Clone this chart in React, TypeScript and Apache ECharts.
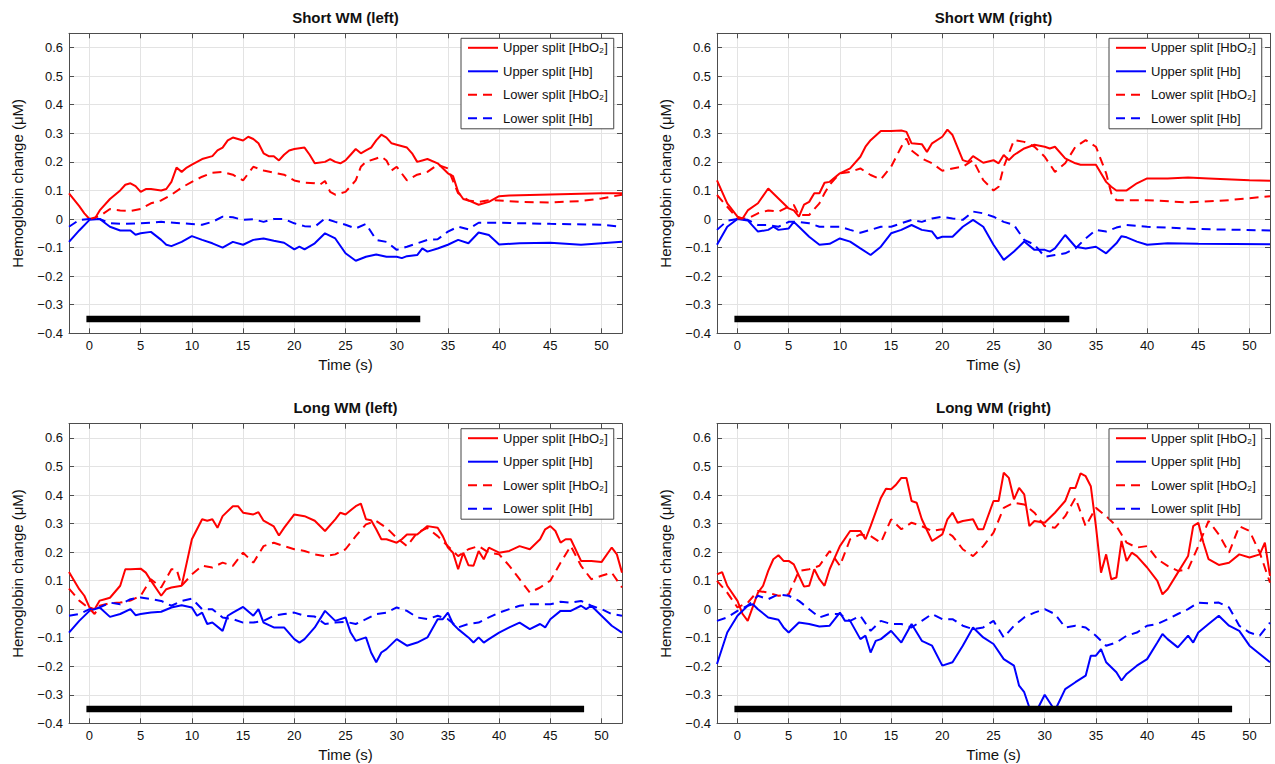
import React, { useEffect, useRef } from "react";
import * as echarts from "echarts";

// ---------- tick labels / categories ----------
const xTicks = [0, 5, 10, 15, 20, 25, 30, 35, 40, 45, 50];
const yTicks = [-0.4, -0.3, -0.2, -0.1, 0, 0.1, 0.2, 0.3, 0.4, 0.5, 0.6];
const panelTitles = ["Short WM (left)", "Short WM (right)", "Long WM (left)", "Long WM (right)"];
const seriesNames = ["Upper split [HbO\u2082]", "Upper split [Hb]", "Lower split [HbO\u2082]", "Lower split [Hb]"];
const taskEnd = [32.3, 32.4, 48.3, 48.3];
const taskStart = -0.3;
const taskLevel = -0.35;

// ---------- Short WM (left) ----------
const swlUpperHbO2 = [[-2,0.09],[-1,0.045],[-0.5,0.02],[0,0.0],[0.5,0.0],[1,0.03],[2,0.07],[3,0.1],[3.5,0.12],[4,0.125],[4.5,0.115],[5,0.095],[5.5,0.105],[6,0.105],[7,0.1],[7.5,0.105],[8,0.13],[8.5,0.18],[9,0.165],[9.5,0.18],[10,0.19],[11,0.21],[12,0.22],[12.5,0.24],[13,0.25],[13.5,0.275],[14,0.285],[15,0.275],[15.5,0.288],[16,0.28],[16.5,0.265],[17,0.23],[17.5,0.22],[18,0.22],[18.5,0.205],[19,0.225],[19.5,0.24],[20,0.245],[21,0.25],[21.5,0.225],[22,0.195],[23,0.2],[23.5,0.21],[24,0.2],[24.5,0.195],[25,0.205],[25.5,0.225],[26,0.245],[26.5,0.23],[27,0.24],[27.5,0.25],[28,0.275],[28.5,0.295],[29,0.285],[29.5,0.265],[30,0.26],[31,0.25],[31.5,0.23],[32,0.2],[32.5,0.205],[33,0.21],[34,0.195],[35,0.16],[35.5,0.15],[36,0.095],[36.5,0.07],[37,0.065],[38,0.05],[39,0.06],[40,0.08],[41,0.082],[45,0.086],[50,0.09],[52,0.09]];
const swlUpperHb = [[-2,-0.08],[-1,-0.04],[0,-0.003],[1,0],[2,-0.027],[3,-0.04],[4,-0.04],[4.5,-0.055],[5,-0.05],[6,-0.045],[7,-0.073],[7.5,-0.09],[8,-0.095],[9,-0.08],[10,-0.06],[11,-0.073],[12,-0.085],[13,-0.1],[14,-0.08],[15,-0.09],[16,-0.073],[17,-0.068],[18,-0.076],[19,-0.083],[20,-0.106],[20.5,-0.097],[21,-0.106],[22,-0.085],[23,-0.05],[24,-0.068],[25,-0.12],[26,-0.146],[27,-0.132],[28,-0.124],[29,-0.132],[30,-0.132],[30.5,-0.137],[31,-0.13],[32,-0.126],[32.5,-0.103],[33,-0.114],[34,-0.103],[35,-0.09],[36,-0.073],[37,-0.085],[38,-0.047],[39,-0.056],[40,-0.089],[42,-0.085],[45,-0.083],[48,-0.09],[52,-0.08]];
const swlLowerHbO2 = [[0,0],[1,0.01],[2,0.035],[3,0.03],[4,0.028],[5,0.035],[6,0.055],[7,0.065],[8,0.085],[9,0.11],[10,0.13],[11,0.148],[12,0.162],[13,0.165],[14,0.155],[15,0.135],[16,0.183],[17,0.17],[18,0.162],[19,0.155],[20,0.135],[21,0.127],[22,0.125],[22.5,0.12],[23,0.133],[23.5,0.095],[24,0.085],[25,0.095],[26,0.135],[26.5,0.183],[27,0.2],[28,0.212],[28.5,0.218],[29,0.205],[29.5,0.17],[30,0.183],[31,0.135],[32,0.155],[33,0.165],[34,0.19],[35,0.177],[36,0.09],[37,0.065],[38,0.06],[39,0.066],[40,0.065],[42,0.06],[45,0.058],[48,0.063],[50,0.072],[52,0.085]];
const swlLowerHb = [[-2,-0.027],[-1,-0.003],[0,0],[1,0],[2,-0.015],[3,-0.017],[5,-0.015],[7,-0.01],[9,-0.015],[11,-0.02],[12,-0.01],[13,0.008],[14,0.006],[15,-0.003],[16,-0.001],[17,-0.01],[18,0],[19,0],[20,-0.015],[21,-0.025],[22,-0.027],[23,0.002],[24,-0.01],[25,-0.02],[26,-0.033],[27,-0.017],[28,-0.073],[29,-0.08],[30,-0.108],[31,-0.097],[32,-0.085],[33,-0.073],[34,-0.071],[35,-0.044],[36,-0.027],[37,-0.036],[38,-0.013],[40,-0.013],[45,-0.017],[50,-0.02],[52,-0.027]];

// ---------- Short WM (right) ----------
const swrUpperHbO2 = [[-2,0.135],[-1,0.055],[0,0.008],[0.5,0.002],[1,0.03],[2,0.055],[3,0.107],[4,0.072],[5,0.037],[5.5,0.03],[6,0.008],[6.5,0.05],[7,0.06],[7.5,0.09],[8,0.09],[8.5,0.127],[9,0.13],[10,0.16],[11,0.177],[12,0.218],[12.5,0.253],[13,0.276],[14,0.308],[15,0.308],[16,0.31],[16.5,0.305],[17,0.265],[18,0.262],[18.5,0.235],[19,0.265],[20,0.288],[20.5,0.313],[21,0.294],[22,0.206],[22.5,0.2],[23,0.22],[24,0.197],[25,0.206],[25.5,0.195],[26,0.224],[26.5,0.206],[27,0.224],[28,0.247],[29,0.26],[30,0.253],[30.5,0.247],[31,0.253],[32,0.212],[33,0.195],[33.5,0.19],[34,0.19],[35,0.19],[36,0.13],[36.5,0.113],[37,0.1],[38,0.1],[39,0.125],[40,0.142],[42,0.142],[44,0.145],[46,0.142],[50,0.136],[52,0.134]];
const swrUpperHb = [[-2,-0.09],[-1,-0.027],[0,0],[1,-0.005],[2,-0.044],[3,-0.038],[3.5,-0.027],[4,-0.038],[5,-0.033],[5.5,-0.01],[6,-0.027],[7,-0.062],[8,-0.09],[9,-0.087],[10,-0.068],[11,-0.079],[12,-0.103],[13,-0.126],[14,-0.097],[15,-0.05],[16,-0.038],[17,-0.021],[18,-0.038],[19,-0.044],[19.5,-0.068],[20,-0.062],[21,-0.062],[22,-0.027],[23,-0.003],[24,-0.027],[25,-0.09],[26,-0.143],[27,-0.114],[28,-0.079],[29,-0.108],[30,-0.108],[30.5,-0.114],[31,-0.103],[32,-0.056],[33,-0.097],[34,-0.103],[35,-0.097],[36,-0.12],[37,-0.085],[37.5,-0.06],[38,-0.064],[39,-0.079],[40,-0.09],[42,-0.085],[45,-0.087],[52,-0.088]];
const swrLowerHbO2 = [[-2,0.084],[-1,0.043],[0,0.002],[1,0.002],[2,0.02],[3,0.03],[4,0.026],[5,0.043],[5.5,0.049],[6,0.014],[7,0.014],[8,0.055],[8.5,0.09],[9,0.12],[10,0.16],[11,0.165],[12,0.177],[13,0.154],[14,0.139],[15,0.183],[16,0.253],[16.5,0.282],[17,0.24],[18,0.212],[19,0.195],[20,0.169],[21,0.177],[22,0.183],[23,0.206],[24,0.136],[25,0.1],[25.5,0.113],[26,0.183],[27,0.276],[28,0.27],[29,0.253],[30,0.218],[31,0.165],[32,0.195],[33,0.253],[34,0.276],[35,0.253],[36,0.16],[36.5,0.09],[37,0.066],[40,0.066],[44,0.058],[48,0.066],[52,0.08]];
const swrLowerHb = [[-2,-0.038],[-1,-0.006],[0,0],[1,-0.003],[2,-0.021],[3,-0.021],[4,-0.027],[5,-0.01],[6,-0.01],[7,-0.015],[8,-0.027],[9,-0.027],[10,-0.027],[11,-0.038],[12,-0.048],[13,-0.038],[14,-0.027],[15,-0.027],[16,-0.015],[17,-0.003],[18,-0.01],[19,0.002],[20,0.008],[21,0.002],[22,-0.003],[23,0.026],[24,0.02],[25,0.008],[26,-0.01],[27,-0.021],[28,-0.073],[29,-0.09],[30,-0.132],[31,-0.126],[32,-0.12],[33,-0.103],[34,-0.068],[35,-0.038],[36,-0.044],[37,-0.03],[38,-0.021],[40,-0.027],[45,-0.035],[52,-0.04]];

// ---------- Long WM (left) ----------
const lwlUpperHbO2 = [[-2,0.13],[-1,0.07],[-0.5,0.047],[0,0.006],[0.5,0],[1,0.03],[1.5,0.035],[2,0.04],[3,0.082],[3.5,0.14],[4,0.14],[5,0.142],[5.5,0.128],[6,0.1],[7,0.047],[7.5,0.07],[8,0.076],[9,0.082],[9.5,0.163],[10,0.245],[11,0.315],[11.5,0.31],[12,0.315],[12.5,0.285],[13,0.326],[14,0.361],[14.5,0.361],[15,0.338],[16,0.332],[16.5,0.34],[17,0.31],[18,0.29],[18.5,0.258],[19,0.285],[20,0.332],[21,0.326],[22,0.31],[23,0.274],[24,0.315],[24.5,0.338],[25,0.332],[26,0.361],[26.5,0.37],[27,0.315],[27.5,0.312],[28,0.28],[28.5,0.245],[29,0.245],[30,0.233],[30.5,0.245],[31,0.262],[32,0.262],[33,0.291],[34,0.285],[34.5,0.256],[35,0.216],[35.5,0.198],[36,0.14],[36.5,0.198],[37,0.154],[37.5,0.152],[38,0.204],[38.5,0.175],[39,0.216],[40,0.198],[41,0.204],[42,0.221],[43,0.21],[44,0.245],[44.5,0.28],[45,0.291],[45.5,0.274],[46,0.233],[46.5,0.245],[47,0.245],[48,0.169],[49,0.169],[50,0.165],[51,0.216],[51.5,0.192],[52,0.128]];
const lwlUpperHb = [[-2,-0.082],[-1,-0.041],[0,-0.006],[1,0.006],[2,-0.027],[3,-0.017],[4,0],[4.5,-0.021],[5,-0.017],[6,-0.012],[7,-0.009],[8,0.006],[9,0.014],[10,0.006],[10.5,-0.023],[11,-0.012],[11.5,-0.052],[12,-0.047],[13,-0.076],[13.5,-0.023],[14,-0.012],[15,0.008],[16,-0.023],[16.5,0],[17,-0.047],[18,-0.064],[19,-0.064],[20,-0.105],[20.5,-0.117],[21,-0.105],[22,-0.064],[23,-0.006],[24,-0.041],[25,-0.029],[25.5,-0.082],[26,-0.111],[27,-0.099],[27.5,-0.152],[28,-0.186],[28.5,-0.152],[29,-0.14],[30,-0.105],[31,-0.128],[32,-0.117],[33,-0.099],[34,-0.035],[34.5,-0.035],[35,-0.012],[35.5,-0.052],[36,-0.07],[37,-0.099],[37.5,-0.117],[38,-0.099],[38.5,-0.117],[39,-0.105],[40,-0.082],[41,-0.064],[42,-0.047],[43,-0.07],[44,-0.052],[44.5,-0.064],[45,-0.035],[46,-0.006],[47,-0.006],[48,0.012],[48.5,0],[49,0.012],[50,-0.023],[51,-0.058],[52,-0.082]];
const lwlLowerHbO2 = [[-2,0.072],[-1,0.03],[0,0.002],[0.5,-0.017],[1,0.012],[2,0.021],[3,0.023],[4,0.03],[5,0.047],[6,0.105],[7,0.076],[8,0.14],[8.5,0.14],[9,0.082],[10,0.122],[11,0.152],[12,0.146],[13,0.163],[14,0.152],[15,0.198],[16,0.163],[17,0.221],[18,0.233],[19,0.221],[20,0.21],[21,0.204],[22,0.192],[23,0.186],[24,0.192],[25,0.21],[26,0.256],[27,0.297],[28,0.309],[29,0.285],[30,0.25],[31,0.221],[32,0.268],[33,0.285],[34,0.256],[35,0.221],[36,0.186],[37,0.21],[38,0.221],[39,0.198],[40,0.192],[41,0.152],[42,0.105],[43,0.058],[44,0.076],[45,0.1],[46,0.163],[47,0.221],[48,0.152],[49,0.105],[50,0.117],[51,0.128],[52,0.076]];
const lwlLowerHb = [[-2,-0.023],[-1,-0.017],[0,0],[1,0.006],[2,0.023],[3,0.017],[4,0.035],[5,0.041],[6,0.035],[7,0.029],[8,0.012],[9,0.029],[10,0.037],[11,0],[12,0],[13,-0.029],[14,-0.035],[15,-0.047],[16,-0.047],[17,-0.041],[18,-0.023],[19,-0.017],[20,-0.012],[21,-0.023],[22,-0.026],[23,-0.052],[24,-0.047],[25,-0.044],[26,-0.052],[27,-0.035],[28,-0.017],[29,-0.012],[30,0.006],[31,-0.006],[32,-0.029],[33,-0.035],[34,-0.023],[35,-0.035],[36,-0.064],[37,-0.052],[38,-0.047],[39,-0.029],[40,-0.012],[41,0],[42,0.012],[43,0.017],[44,0.017],[45,0.017],[46,0.026],[47,0.023],[48,0.029],[49,0.012],[50,0],[51,-0.017],[52,-0.023]];

// ---------- Long WM (right) ----------
const lwrUpperHbO2 = [[-2,0.122],[-1.5,0.13],[-1,0.082],[0,0.029],[0.5,-0.017],[1,-0.041],[2,0.058],[2.5,0.082],[3,0.134],[3.5,0.175],[4,0.189],[4.5,0.169],[5,0.169],[5.5,0.157],[6,0.117],[6.5,0.079],[7,0.082],[7.5,0.14],[8,0.105],[8.5,0.082],[9,0.14],[10,0.221],[11,0.274],[12,0.274],[12.5,0.245],[13,0.291],[14,0.39],[14.5,0.422],[15,0.42],[15.5,0.437],[16,0.46],[16.5,0.46],[17,0.379],[17.5,0.373],[18,0.315],[19,0.239],[20,0.262],[20.5,0.315],[21,0.338],[21.5,0.303],[22,0.309],[23,0.315],[23.5,0.28],[24,0.28],[25,0.379],[25.5,0.379],[26,0.478],[26.5,0.46],[27,0.385],[27.5,0.425],[28,0.402],[28.5,0.291],[29,0.309],[30,0.303],[31,0.338],[32,0.379],[32.5,0.425],[33,0.425],[33.5,0.476],[34,0.466],[34.5,0.431],[35,0.291],[35.5,0.128],[36,0.192],[36.5,0.105],[37,0.111],[37.5,0.239],[38,0.169],[38.5,0.198],[39,0.186],[40,0.146],[41,0.099],[41.5,0.052],[42,0.07],[43,0.128],[44,0.186],[44.5,0.291],[45,0.303],[45.5,0.233],[46,0.175],[47,0.155],[48,0.163],[49,0.192],[50,0.181],[51,0.192],[51.5,0.233],[52,0.117]];
const lwrUpperHb = [[-2,-0.192],[-1,-0.082],[0,-0.023],[1,0.012],[1.5,0.017],[2,0],[3,-0.029],[4,-0.037],[4.5,-0.064],[5,-0.082],[6,-0.047],[7,-0.052],[8,-0.061],[9,-0.058],[10,-0.012],[10.5,-0.041],[11,-0.041],[12,-0.105],[12.5,-0.093],[13,-0.152],[13.5,-0.111],[14,-0.105],[15,-0.076],[16,-0.117],[17,-0.052],[18,-0.111],[19,-0.128],[20,-0.198],[21,-0.186],[22,-0.128],[23,-0.064],[24,-0.099],[25,-0.122],[26,-0.175],[27,-0.198],[27.5,-0.268],[28,-0.291],[28.6,-0.355],[29.3,-0.35],[30,-0.3],[31,-0.355],[32,-0.28],[33,-0.256],[34,-0.233],[34.5,-0.163],[35,-0.163],[35.5,-0.14],[36,-0.186],[37,-0.221],[37.5,-0.25],[38,-0.227],[39,-0.198],[40,-0.175],[41,-0.117],[41.5,-0.087],[42,-0.105],[43,-0.134],[44,-0.093],[44.5,-0.117],[45,-0.082],[46,-0.052],[47,-0.023],[48,-0.058],[49,-0.076],[50,-0.128],[51,-0.157],[52,-0.186]];
const lwrLowerHbO2 = [[-2,0.099],[-1,0.058],[0,0.006],[1,0.023],[2,0.064],[3,0.058],[4,0.047],[5,0.052],[6,0.134],[7,0.14],[8,0.152],[9,0.204],[10,0.152],[11,0.245],[12,0.262],[13,0.256],[14,0.233],[15,0.315],[16,0.28],[17,0.303],[18,0.291],[19,0.274],[20,0.28],[21,0.256],[22,0.21],[23,0.186],[24,0.221],[25,0.268],[26,0.355],[27,0.373],[28,0.367],[29,0.338],[30,0.291],[31,0.285],[32,0.326],[33,0.39],[34,0.291],[35,0.355],[36,0.326],[37,0.291],[38,0.233],[39,0.216],[40,0.221],[41,0.175],[42,0.152],[43,0.134],[44,0.14],[45,0.221],[46,0.309],[47,0.262],[48,0.198],[49,0.291],[50,0.274],[51,0.198],[52,0.093]];
const lwrLowerHb = [[-2,-0.041],[-1,-0.029],[0,-0.006],[1,0.012],[2,0.047],[3,0.035],[4,0.052],[5,0.047],[6,0.029],[7,0],[8,-0.029],[9,-0.017],[10,-0.017],[11,-0.041],[12,-0.023],[13,-0.076],[14,-0.041],[15,-0.052],[16,-0.052],[17,-0.064],[18,-0.041],[19,-0.017],[20,-0.035],[21,-0.035],[22,-0.058],[23,-0.07],[24,-0.064],[25,-0.041],[26,-0.099],[27,-0.058],[28,-0.029],[29,-0.012],[30,0],[31,-0.017],[32,-0.064],[33,-0.058],[34,-0.064],[35,-0.093],[36,-0.128],[37,-0.117],[38,-0.093],[39,-0.082],[40,-0.058],[41,-0.052],[42,-0.035],[43,-0.017],[44,0],[45,0.023],[46,0.021],[47,0.023],[48,0.006],[49,-0.058],[50,-0.082],[51,-0.093],[52,-0.047]];

const panelData = [
  [swlUpperHbO2, swlUpperHb, swlLowerHbO2, swlLowerHb],
  [swrUpperHbO2, swrUpperHb, swrLowerHbO2, swrLowerHb],
  [lwlUpperHbO2, lwlUpperHb, lwlLowerHbO2, lwlLowerHb],
  [lwrUpperHbO2, lwrUpperHb, lwrLowerHbO2, lwrLowerHb],
];

// ---------- styling / layout ----------
const FONT = '"Liberation Sans", Arial, Helvetica, sans-serif';
const RED = "#ff0000";
const BLUE = "#0000ff";
const AXIS = "#4d4d4d";
const seriesColors = [RED, BLUE, RED, BLUE];
const seriesDashed = [false, false, true, true];
const grids = [
  { left: 69, top: 33.3, width: 553, height: 300 },
  { left: 717, top: 33.3, width: 553, height: 300 },
  { left: 69, top: 423.7, width: 553, height: 299.6 },
  { left: 717, top: 423.7, width: 553, height: 299.6 },
];

const fmtY = (v: number) => {
  if (Math.abs(v) < 1e-9) return "0";
  return v < 0 ? "\u2212" + Math.abs(v).toFixed(1) : v.toFixed(1);
};

function buildOption() {
  const xAxis: any[] = [];
  const yAxis: any[] = [];
  const series: any[] = [];
  const legend: any[] = [];
  const graphic: any[] = [];
  const line = { show: true, onZero: false, lineStyle: { color: AXIS, width: 1 } };
  grids.forEach((g, i) => {
    xAxis.push({
      type: "value", gridIndex: i, min: -2, max: 52, position: "bottom",
      name: "Time (s)", nameLocation: "middle", nameGap: 24,
      nameTextStyle: { fontFamily: FONT, fontSize: 15, color: "#111" },
      axisLine: line,
      axisTick: { show: true, inside: true, length: 5, customValues: xTicks, lineStyle: { color: AXIS } },
      axisLabel: { show: true, customValues: xTicks, margin: 6, fontFamily: FONT, fontSize: 13, color: "#111" },
      splitLine: { show: true, lineStyle: { color: "#e3e3e3", width: 1 } },
    });
    xAxis.push({
      type: "value", gridIndex: i, min: -2, max: 52, position: "top",
      axisLine: line,
      axisTick: { show: true, inside: true, length: 5, customValues: xTicks, lineStyle: { color: AXIS } },
      axisLabel: { show: false },
      splitLine: { show: false },
    });
    yAxis.push({
      type: "value", gridIndex: i, min: -0.4, max: 0.65, position: "left",
      name: "Hemoglobin change (\u03bcM)", nameLocation: "middle", nameGap: 44,
      nameTextStyle: { fontFamily: FONT, fontSize: 15, color: "#111" },
      axisLine: line,
      axisTick: { show: true, inside: true, length: 5, customValues: yTicks, lineStyle: { color: AXIS } },
      axisLabel: { show: true, customValues: yTicks, margin: 6, fontFamily: FONT, fontSize: 13, color: "#111", formatter: fmtY },
      splitLine: { show: true, lineStyle: { color: "#e3e3e3", width: 1 } },
    });
    yAxis.push({
      type: "value", gridIndex: i, min: -0.4, max: 0.65, position: "right",
      axisLine: line,
      axisTick: { show: true, inside: true, length: 5, customValues: yTicks, lineStyle: { color: AXIS } },
      axisLabel: { show: false },
      splitLine: { show: false },
    });
    panelData[i].forEach((d, k) => {
      series.push({
        type: "line", name: seriesNames[k], xAxisIndex: 2 * i, yAxisIndex: 2 * i,
        data: d, symbol: "none", showSymbol: false, smooth: false, z: 2,
        lineStyle: { color: seriesColors[k], width: 2, type: seriesDashed[k] ? [9, 6] : "solid" },
        itemStyle: { color: seriesColors[k] },
      });
    });
    series.push({
      type: "line", name: "task", xAxisIndex: 2 * i, yAxisIndex: 2 * i,
      data: [[taskStart, taskLevel], [taskEnd[i], taskLevel]],
      symbol: "none", z: 4, lineStyle: { color: "#000", width: 6.5, cap: "butt" },
    });
    legend.push({
      show: true, orient: "vertical", left: g.left + 392, top: g.top + 5,
      data: seriesNames, itemWidth: 30, itemHeight: 14, itemGap: 10.5,
      padding: [3, 6, 4, 6], borderColor: "#444", borderWidth: 1, backgroundColor: "#fff",
      itemStyle: { opacity: 0, borderWidth: 0 },
      textStyle: { fontFamily: FONT, fontSize: 13, color: "#111" },
      selectedMode: false,
    });
    graphic.push({
      type: "text", x: g.left + g.width / 2, y: g.top - 16,
      style: { text: panelTitles[i], textAlign: "center", textVerticalAlign: "middle", font: `bold 15px ${FONT}`, fill: "#111" },
    });
  });
  return {
    animation: false,
    backgroundColor: "#ffffff",
    grid: grids.map((g) => ({ ...g, show: false, containLabel: false })),
    xAxis, yAxis, series, legend, graphic,
  };
}

export default function App() {
  const ref = useRef<HTMLDivElement>(null);
  useEffect(() => {
    if (!ref.current) return;
    const chart = echarts.init(ref.current, null, { renderer: "svg" });
    chart.setOption(buildOption() as any);
    return () => chart.dispose();
  }, []);
  return <div ref={ref} style={{ position: "fixed", left: 0, top: 0, width: 1275, height: 764, background: "#fff" }} />;
}
